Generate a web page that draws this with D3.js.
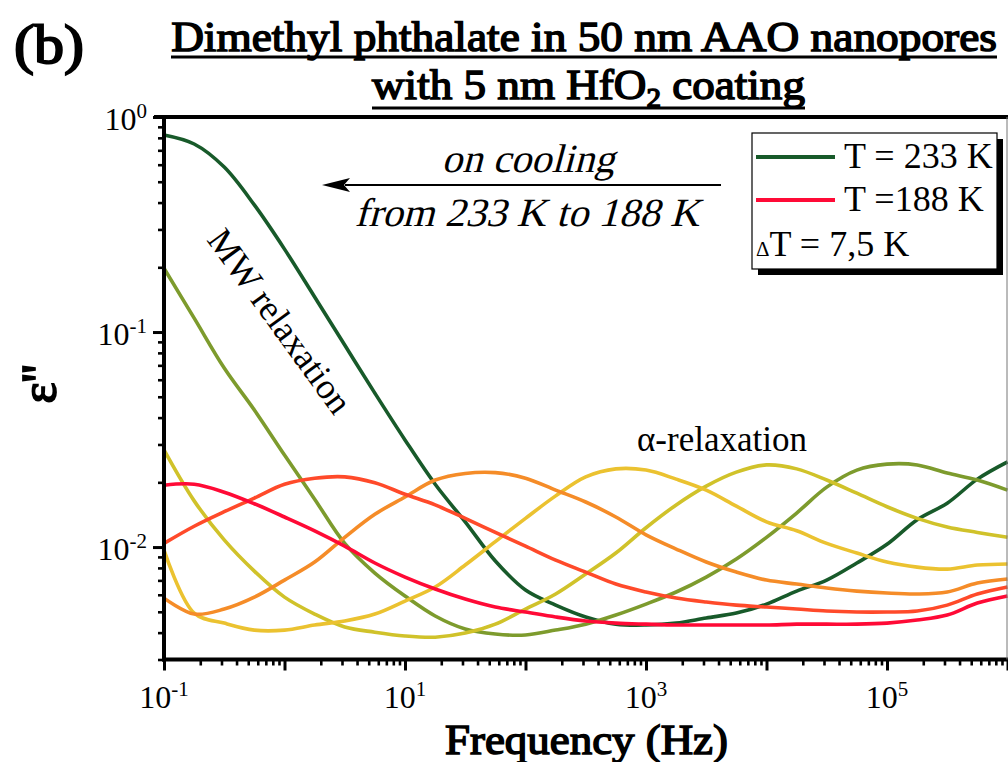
<!DOCTYPE html>
<html>
<head>
<meta charset="utf-8">
<script src="https://cdn.jsdelivr.net/npm/d3@7"></script>
<style>
  html, body { margin: 0; padding: 0; background: #fff; }
  svg { display: block; }
  text { font-family: "Liberation Serif"; fill: #000; }
  .heavy { stroke: #000; stroke-linejoin: miter; }
</style>
</head>
<body>
<svg id="chart" width="1008" height="762"></svg>
<script>
// Frequency grid (Hz), shared by all temperatures
const freq = [0.1, 0.178, 0.316, 0.562, 1, 1.78, 3.16, 5.62, 10, 17.8, 31.6, 56.2,
  100, 178, 316, 562, 1e3, 1.78e3, 3.16e3, 5.62e3, 1e4, 1.78e4, 3.16e4, 5.62e4,
  1e5, 1.78e5, 3.16e5, 5.62e5, 1e6];

// Dielectric loss ε'' at each temperature (K)
const temps = [233, 225.5, 218, 210.5, 203, 195.5, 188];
const eps233 = [0.825, 0.749, 0.585, 0.390, 0.243, 0.1455, 0.0870, 0.0520, 0.0315, 0.0196, 0.0131, 0.00861,
  0.00631, 0.00537, 0.00473, 0.00438, 0.00434, 0.00443, 0.00468, 0.00493, 0.00543, 0.00624, 0.00702, 0.00843,
  0.0103, 0.0134, 0.0160, 0.0207, 0.0249];
const eps2255 = [0.198, 0.116, 0.0680, 0.0434, 0.0268, 0.0167, 0.0104, 0.00757, 0.00592, 0.00478, 0.00416, 0.00394,
  0.00390, 0.00411, 0.00438, 0.00483, 0.00543, 0.00618, 0.00725, 0.00880, 0.0111, 0.0144, 0.0190, 0.0228,
  0.0243, 0.0241, 0.0221, 0.0205, 0.0184];
const eps218 = [0.0283, 0.0164, 0.0108, 0.00773, 0.00585, 0.00488, 0.00425, 0.00402, 0.00386, 0.00381, 0.00398, 0.00438,
  0.00515, 0.00605, 0.00749, 0.00938, 0.0123, 0.0157, 0.0192, 0.0223, 0.0241, 0.0231, 0.0205, 0.0178,
  0.0154, 0.0136, 0.0124, 0.0117, 0.0111];
const eps2105 = [0.00968, 0.00493, 0.00443, 0.00411, 0.00411, 0.00434, 0.00453, 0.00488, 0.00561, 0.00652, 0.00825, 0.0106,
  0.0136, 0.0173, 0.0212, 0.0231, 0.0228, 0.0207, 0.0184, 0.0155, 0.0131, 0.0119, 0.0104, 0.00938,
  0.00852, 0.00807, 0.00790, 0.00825, 0.00834];
const eps203 = [0.00579, 0.00488, 0.00515, 0.00585, 0.00702, 0.00852, 0.0111, 0.0142, 0.0171, 0.0205, 0.0220, 0.0222,
  0.0209, 0.0184, 0.0162, 0.0138, 0.0114, 0.00979, 0.00852, 0.00765, 0.00702, 0.00673, 0.00645, 0.00624,
  0.00611, 0.00605, 0.00618, 0.00680, 0.00710];
const eps1955 = [0.0104, 0.0125, 0.0146, 0.0169, 0.0196, 0.0209, 0.0212, 0.0199, 0.0176, 0.0157, 0.0136, 0.0117,
  0.0101, 0.00870, 0.00765, 0.00673, 0.00618, 0.00579, 0.00555, 0.00537, 0.00526, 0.00515, 0.00504, 0.00499,
  0.00499, 0.00504, 0.00537, 0.00605, 0.00652];
const eps188 = [0.0194, 0.0196, 0.0180, 0.0159, 0.0138, 0.0119, 0.0101, 0.00843, 0.00725, 0.00638, 0.00573, 0.00526,
  0.00499, 0.00473, 0.00453, 0.00443, 0.00438, 0.00434, 0.00434, 0.00434, 0.00434, 0.00438, 0.00438, 0.00438,
  0.00443, 0.00458, 0.00483, 0.00549, 0.00592];
const seriesValues = [eps233, eps2255, eps218, eps2105, eps203, eps1955, eps188];
const seriesColors = ["#185a2a", "#7d9b2d", "#d0c22a", "#ebc230", "#f58c28", "#ff4a2a", "#ff0a36"];

// Axis ticks
const xMajor = [0.1, 1, 10, 100, 1e3, 1e4, 1e5, 1e6];
const xLabelExp = [-1, 1, 3, 5];
const yMajor = [1, 0.1, 0.01];
const yLabelExp = [0, -1, -2];

// Texts
const titleLine1 = "Dimethyl phthalate in 50 nm AAO nanopores";
const panelTag = "(b)";
const legendTexts = ["T = 233 K", "T =188 K"];
const stepText = "T = 7,5 K";

const svg = d3.select("#chart");
const plotL = 164, plotR = 1007.5, plotT = 117, plotB = 659.5;

const x = d3.scaleLog().domain([0.1, 1e6]).range([plotL, plotR]);
const y = d3.scaleLog().domain([0.003, 1]).range([plotB, plotT]);

// minor tick values (2..9 per decade)
const xMinor = [];
for (let e = -1; e < 6; e++) for (let m = 2; m <= 9; m++) xMinor.push(m * Math.pow(10, e));
const yMinor = [];
for (let e = -3; e < 0; e++) for (let m = 2; m <= 9; m++) {
  const v = m * Math.pow(10, e);
  if (v >= 0.003) yMinor.push(v);
}

// text centred at (cx, baseline), stretched to a given width, optionally slanted
function fitText(sel, cx, by, width, skew) {
  sel.attr("x", 0).attr("y", 0).attr("text-anchor", "middle");
  const w = sel.node().getBBox().width;
  sel.attr("transform", `translate(${cx},${by}) skewX(${skew || 0}) scale(${width / w},1)`);
  return sel;
}

// curves
const line = d3.line()
  .x((d) => x(d[0]))
  .y((d) => y(d[1]))
  .curve(d3.curveCatmullRom.alpha(0.5));

const curves = svg.append("g");
seriesValues.forEach((vals, i) => {
  curves.append("path")
    .datum(freq.map((f, j) => [f, vals[j]]))
    .attr("d", line)
    .attr("fill", "none")
    .attr("stroke", seriesColors[i])
    .attr("stroke-width", 3.6)
    .attr("stroke-linejoin", "round");
});

// axes
function styleAxis(g, w) {
  g.select(".domain").remove();
  g.selectAll(".tick line").attr("stroke", "#000").attr("stroke-width", w);
  g.selectAll(".tick text").remove();
}
svg.append("g").attr("transform", `translate(0,${plotB})`)
  .call(d3.axisBottom(x).tickValues(xMinor).tickSize(6).tickSizeOuter(0))
  .call((g) => styleAxis(g, 2.6));
svg.append("g").attr("transform", `translate(0,${plotB})`)
  .call(d3.axisBottom(x).tickValues(xMajor).tickSize(11).tickSizeOuter(0))
  .call((g) => styleAxis(g, 3));
svg.append("g").attr("transform", `translate(${plotL},0)`)
  .call(d3.axisLeft(y).tickValues(yMinor).tickSize(6).tickSizeOuter(0))
  .call((g) => styleAxis(g, 2.6));
svg.append("g").attr("transform", `translate(${plotL},0)`)
  .call(d3.axisLeft(y).tickValues(yMajor).tickSize(11).tickSizeOuter(0))
  .call((g) => styleAxis(g, 3));

// frame
svg.append("line").attr("x1", plotL).attr("x2", plotL).attr("y1", plotT - 2).attr("y2", plotB + 2)
  .attr("stroke", "#000").attr("stroke-width", 4);
svg.append("line").attr("x1", plotL - 2).attr("x2", 1008).attr("y1", plotB).attr("y2", plotB)
  .attr("stroke", "#000").attr("stroke-width", 4);
svg.append("line").attr("x1", plotL - 10).attr("x2", 1008).attr("y1", plotT).attr("y2", plotT)
  .attr("stroke", "#000").attr("stroke-width", 4);
svg.append("line").attr("x1", 1007).attr("x2", 1007).attr("y1", plotT).attr("y2", plotB)
  .attr("stroke", "#777").attr("stroke-width", 1);

// tick labels with superscript exponents
xLabelExp.forEach((e) => {
  const t = svg.append("text")
    .attr("x", x(Math.pow(10, e)))
    .attr("y", 708)
    .attr("text-anchor", "middle")
    .attr("font-size", 32);
  t.append("tspan").text("10");
  t.append("tspan").attr("font-size", 21).attr("dy", -12).text(e < 0 ? "-" + (-e) : String(e));
});
yLabelExp.forEach((e) => {
  const t = svg.append("text")
    .attr("x", 147)
    .attr("y", y(Math.pow(10, e)) + 13)
    .attr("text-anchor", "end")
    .attr("font-size", 32);
  t.append("tspan").text("10");
  t.append("tspan").attr("font-size", 21).attr("dy", -12).text(e < 0 ? "-" + (-e) : String(e));
});

// axis titles
fitText(svg.append("text").attr("class", "heavy").attr("stroke-width", 1.5)
  .attr("font-size", 42).text("Frequency (Hz)"), 586.5, 754, 283);
svg.append("text")
  .attr("class", "heavy").attr("stroke-width", 1.8)
  .attr("transform", "translate(56,384) rotate(-90)")
  .attr("text-anchor", "middle")
  .attr("font-size", 50)
  .text("ε''");

// panel tag and title
fitText(svg.append("text").attr("class", "heavy").attr("stroke-width", 1.9)
  .attr("font-size", 54).text(panelTag), 49, 63, 70);

fitText(svg.append("text").attr("class", "heavy").attr("stroke-width", 1.5)
  .attr("font-size", 42).text(titleLine1), 584, 51, 826);
const t2 = svg.append("text").attr("class", "heavy").attr("stroke-width", 1.5).attr("font-size", 42);
t2.append("tspan").text("with 5 nm HfO");
t2.append("tspan").attr("font-size", 27).attr("dy", 8).text("2");
t2.append("tspan").attr("dy", -8).text(" coating");
fitText(t2, 588.5, 99, 433);

[[584, 826, 57], [588.5, 433, 108]].forEach(([cx, w, uy]) => {
  svg.append("line")
    .attr("x1", cx - w / 2).attr("x2", cx + w / 2)
    .attr("y1", uy).attr("y2", uy)
    .attr("stroke", "#000").attr("stroke-width", 3);
});

// cooling annotation with arrow
fitText(svg.append("text").attr("font-size", 40).text("on cooling"), 528, 172, 173, -15);
fitText(svg.append("text").attr("font-size", 40).text("from 233 K to 188 K"), 527, 226, 345, -15);
svg.append("line")
  .attr("x1", 345).attr("x2", 721).attr("y1", 185).attr("y2", 185)
  .attr("stroke", "#000").attr("stroke-width", 2.2);
svg.append("path")
  .attr("d", "M322,185 L350,178 L344,185 L350,192 Z")
  .attr("fill", "#000");

// relaxation labels
svg.append("text")
  .attr("transform", "translate(206,240) rotate(54)")
  .attr("font-size", 36)
  .text("MW relaxation");
svg.append("text")
  .attr("x", 722).attr("y", 451)
  .attr("text-anchor", "middle")
  .attr("font-size", 35)
  .text("α-relaxation");

// legend
const lg = svg.append("g");
lg.append("rect").attr("x", 758).attr("y", 139).attr("width", 245).attr("height", 136).attr("fill", "#000");
lg.append("rect").attr("x", 752).attr("y", 133).attr("width", 245).attr("height", 136)
  .attr("fill", "#fff").attr("stroke", "#000").attr("stroke-width", 1.2);
[[0, 157, 168], [6, 200, 211]].forEach(([si, ly, ty], k) => {
  lg.append("line").attr("x1", 756).attr("x2", 835).attr("y1", ly).attr("y2", ly)
    .attr("stroke", seriesColors[si]).attr("stroke-width", 4);
  lg.append("text").attr("x", 844).attr("y", ty).attr("font-size", 36).text(legendTexts[k]);
});
const st = lg.append("text").attr("x", 756).attr("y", 256);
st.append("tspan").attr("font-size", 21).text("Δ");
st.append("tspan").attr("font-size", 36).text(stepText);
</script>
</body>
</html>
